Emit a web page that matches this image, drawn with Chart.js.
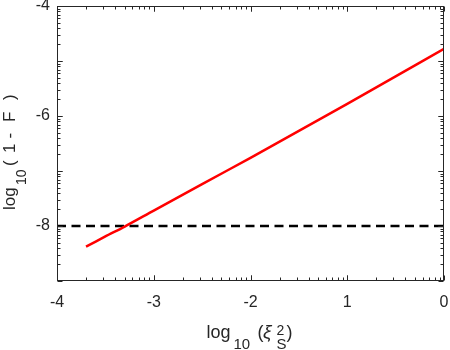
<!DOCTYPE html>
<html>
<head>
<meta charset="utf-8">
<script src="https://cdn.jsdelivr.net/npm/chart.js@4"></script>
<style>
  html, body { margin: 0; padding: 0; background: #fff; }
  #wrap { width: 450px; height: 350px; }
</style>
</head>
<body>
<div id="wrap"><canvas id="fidelityChart" width="450" height="350"></canvas></div>
<script>
// values
const xVals = [-3.7, -3.5, -3.3, -3.0, -2.5, -2.0, -1.5, -1.0, -0.5, 0];
const yVals = [-8.375, -8.19, -8.01, -7.72, -7.24, -6.76, -6.27, -5.78, -5.28, -4.78];
const thresholdX = [-4, 0];
const thresholdY = -8;
const xTickLabels = ['-4', '-3', '-2', '1', '0'];   // as printed in the figure
const yTickLabels = ['-8', '-6', '-4'];

const axisColor = '#262626';
const fontFamily = '"Liberation Sans", Arial, Helvetica, sans-serif';

// title pieces: text, font size, x offset from start, baseline shift
const xTitle = [
    { t: 'log', size: 18, x: 0 },
    { t: '10', size: 15, x: 27, dy: 11 },
    { t: '(', size: 18, x: 51 },
    { t: 'ξ', size: 19, x: 56.5, italic: true },
    { t: '2', size: 14, x: 70, dy: -3 },
    { t: 'S', size: 15, x: 70, dy: 11 },
    { t: ')', size: 18, x: 80 }
];
const xTitleWidth = 88;
const yTitle = [
    { t: 'log', size: 17, x: 0 },
    { t: '10', size: 14, x: 25, dy: 11 },
    { t: '(', size: 17, x: 44 },
    { t: '1', size: 17, x: 57 },
    { t: '-', size: 17, x: 71.5 },
    { t: 'F', size: 17, x: 88 },
    { t: ')', size: 17, x: 110 }
];
const yTitleWidth = 123;

function drawPieces(ctx, parts, x0, y0) {
    parts.forEach(p => {
        ctx.font = (p.italic ? 'italic ' : '') + p.size + 'px ' + fontFamily;
        ctx.fillText(p.t, x0 + p.x, y0 + (p.dy || 0));
    });
}

const boxPlugin = {
    id: 'boxPlugin',
    afterDraw(chart) {
        const ctx = chart.ctx;
        const a = chart.chartArea;
        const xs = chart.scales.x, ys = chart.scales.y;
        ctx.save();
        ctx.strokeStyle = axisColor;
        ctx.lineWidth = 1;
        const L = Math.round(a.left) + 0.5, R = Math.round(a.right) - 0.5;
        const T = Math.round(a.top) + 0.5, B = Math.round(a.bottom) - 0.5;
        ctx.strokeRect(L, T, R - L, B - T);

        // log-style ticks inside every decade, on all four sides
        ctx.beginPath();
        for (let d = -4; d < 0; d++) {
            for (let k = 1; k <= 10; k++) {
                const v = d + Math.log10(k);
                const px = Math.round(xs.getPixelForValue(v)) + 0.5;
                const len = (k === 1 || k === 10) ? 5 : 3;
                ctx.moveTo(px, B); ctx.lineTo(px, B - len);
                ctx.moveTo(px, T); ctx.lineTo(px, T + len);
            }
        }
        for (let d = -9; d < -4; d++) {
            for (let k = 1; k <= 10; k++) {
                const v = d + Math.log10(k);
                const py = Math.round(ys.getPixelForValue(v)) + 0.5;
                const len = (k === 1 || k === 10) ? 5 : 3;
                ctx.moveTo(L, py); ctx.lineTo(L + len, py);
                ctx.moveTo(R, py); ctx.lineTo(R - len, py);
            }
        }
        ctx.stroke();

        // axis titles
        ctx.fillStyle = axisColor;
        ctx.textBaseline = 'alphabetic';
        ctx.textAlign = 'left';
        const cxMid = (a.left + a.right) / 2;
        drawPieces(ctx, xTitle, cxMid - xTitleWidth / 2, 338);

        ctx.translate(15, 148.5);
        ctx.rotate(-Math.PI / 2);
        drawPieces(ctx, yTitle, -yTitleWidth / 2, 0);
        ctx.restore();
    }
};

function noPad(scale) {
    scale.paddingTop = 0;
    scale.paddingBottom = 0;
    scale.paddingLeft = 0;
    scale.paddingRight = 0;
}

const ctx = document.getElementById('fidelityChart');

new Chart(ctx, {
    type: 'scatter',
    data: {
        datasets: [
            {
                label: 'infidelity',
                data: xVals.map((x, i) => ({ x: x, y: yVals[i] })),
                showLine: true,
                borderColor: '#ff0000',
                borderWidth: 2.5,
                pointRadius: 0,
                tension: 0.3,
                fill: false
            },
            {
                label: 'threshold',
                data: thresholdX.map(x => ({ x: x, y: thresholdY })),
                showLine: true,
                borderColor: '#000000',
                borderWidth: 2.5,
                borderDash: [9, 5.5],
                pointRadius: 0,
                fill: false
            }
        ]
    },
    options: {
        responsive: false,
        animation: false,
        layout: { padding: { left: 0, top: 6, right: 6, bottom: 0 } },
        plugins: {
            legend: { display: false },
            tooltip: { enabled: false }
        },
        scales: {
            x: {
                type: 'linear',
                min: -4,
                max: 0,
                grid: { display: false, drawTicks: false },
                border: { display: false },
                afterFit(scale) { scale.height = 69; noPad(scale); },
                ticks: {
                    stepSize: 1,
                    autoSkip: false,
                    maxRotation: 0,
                    padding: 12,
                    color: axisColor,
                    font: { family: fontFamily, size: 16 },
                    callback: function (value) {
                        const i = Math.round(value) + 4;
                        return xTickLabels[i];
                    }
                }
            },
            y: {
                type: 'linear',
                min: -9,
                max: -4,
                grid: { display: false, drawTicks: false },
                border: { display: false },
                afterFit(scale) { scale.width = 57; noPad(scale); },
                ticks: {
                    stepSize: 1,
                    autoSkip: false,
                    padding: 7,
                    color: axisColor,
                    font: { family: fontFamily, size: 16 },
                    callback: function (value) {
                        const s = String(value);
                        return yTickLabels.includes(s) ? s : '';
                    }
                }
            }
        }
    },
    plugins: [boxPlugin]
});
</script>
</body>
</html>
